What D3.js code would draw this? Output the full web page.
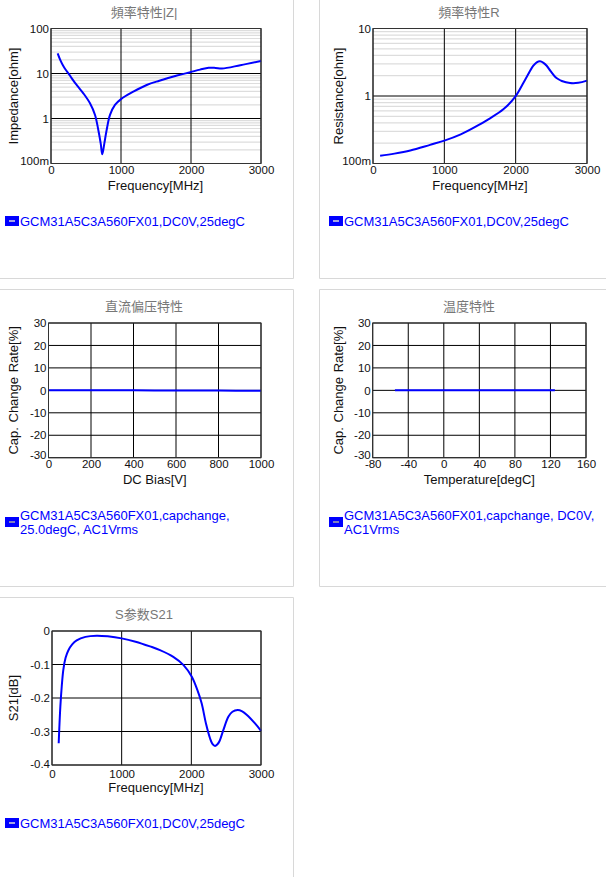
<!DOCTYPE html>
<html>
<head>
<meta charset="utf-8">
<script src="https://cdnjs.cloudflare.com/ajax/libs/d3/7.8.5/d3.min.js"></script>
<style>
  html, body { margin: 0; padding: 0; background: #fff; overflow: hidden; }
  text { font-family: "Liberation Sans", "Noto Sans CJK SC", sans-serif; }
  .tick text { fill: #111; font-size: 11.5px; }
</style>
</head>
<body>
<svg id="page" width="606" height="877"></svg>
<script>
// values
var zFreq = [95, 135, 176, 210, 248, 295, 343, 400, 462, 557, 629, 676, 710, 733, 762, 795, 843, 914, 1000, 1176, 1367, 1548, 1800, 1990, 2130, 2252, 2350, 2443, 2705, 3000];
var zOhm = [28, 19.5, 14.6, 12.1, 10.1, 7.9, 6.2, 4.8, 3.63, 2.18, 1.2, 0.555, 0.28, 0.16, 0.28, 0.555, 1.2, 2.0, 2.7, 3.94, 5.55, 6.9, 9.0, 10.7, 12.2, 13.4, 13.3, 12.9, 15.3, 19];

var rFreq = [100, 300, 523, 800, 1000, 1230, 1458, 1617, 1827, 1995, 2131, 2248, 2295, 2341, 2390, 2435, 2490, 2552, 2600, 2646, 2762, 2878, 3000];
var rOhm = [0.13, 0.14, 0.156, 0.189, 0.218, 0.27, 0.36, 0.452, 0.635, 0.98, 1.73, 2.81, 3.15, 3.27, 3.1, 2.81, 2.33, 1.93, 1.77, 1.67, 1.56, 1.57, 1.69];

var biasVolt = [0, 200, 400, 600, 800, 1000];
var biasRate = [0, 0, 0, -0.05, -0.1, -0.2];

var tempDeg = [-55, -25, 0, 25, 50, 85, 125];
var tempRate = [0, 0, 0, 0, 0, 0, 0];

var s21Freq = [96, 105, 120, 140, 163, 195, 234, 290, 354, 480, 641, 800, 1000, 1200, 1407, 1550, 1741, 1885, 2005, 2086, 2148, 2210, 2268, 2300, 2340, 2375, 2402, 2459, 2531, 2590, 2665, 2730, 2794, 2914, 3000];
var s21Db = [-0.335, -0.29, -0.225, -0.165, -0.115, -0.08, -0.058, -0.04, -0.028, -0.0175, -0.014, -0.016, -0.022, -0.032, -0.046, -0.057, -0.077, -0.101, -0.136, -0.176, -0.216, -0.276, -0.32, -0.336, -0.343, -0.338, -0.33, -0.296, -0.256, -0.241, -0.236, -0.24, -0.25, -0.276, -0.298];

var freqTicks = [0, 1000, 2000, 3000];
var logTicksZ = [0.1, 1, 10, 100];
var logTicksR = [0.1, 1, 10];
var biasTicks = [0, 200, 400, 600, 800, 1000];
var tempTicks = [-80, -40, 0, 40, 80, 120, 160];
var rateTicks = [-30, -20, -10, 0, 10, 20, 30];
var s21Ticks = [-0.4, -0.3, -0.2, -0.1, 0];

var svg = d3.select('#page');

// card outlines
var cardPaths = [
  'M0,278.5H293.5V0',
  'M319.5,0V278.5H606',
  'M0,289.5H293.5V586.5H0',
  'M606,289.5H319.5V586.5H606',
  'M0,597.5H293.5V877'
];
svg.selectAll('path.card').data(cardPaths).enter().append('path')
  .attr('class', 'card').attr('d', function(d) { return d; })
  .attr('fill', 'none').attr('stroke', '#d8d8d8').attr('stroke-width', 1);

function logLabel(d) {
  return d < 1 ? Math.round(d * 1000) + 'm' : String(d);
}

function drawChart(c) {
  var g = svg.append('g');
  var x = d3.scaleLinear().domain(c.xDomain).range([c.box[0], c.box[1]]);
  var y = (c.log ? d3.scaleLog() : d3.scaleLinear()).domain(c.yDomain).range([c.box[3], c.box[2]]);

  g.append('text').attr('x', c.titleX).attr('y', c.box[2] - 12)
    .attr('text-anchor', 'middle').attr('fill', '#777').style('font-size', '13px').text(c.title);

  // minor grid on log charts
  if (c.log) {
    var minor = [];
    for (var i = 0; i < c.yTicks.length - 1; i++) {
      for (var m = 2; m < 10; m++) minor.push(c.yTicks[i] * m);
    }
    g.selectAll('line.minor').data(minor).enter().append('line')
      .attr('x1', c.box[0]).attr('x2', c.box[1])
      .attr('y1', function(d) { return y(d); }).attr('y2', function(d) { return y(d); })
      .attr('stroke', '#ddd').attr('stroke-width', 1.2);
  }

  // major grid
  g.selectAll('line.vgrid').data(c.xTicks).enter().append('line')
    .attr('x1', function(d) { return x(d); }).attr('x2', function(d) { return x(d); })
    .attr('y1', c.box[2]).attr('y2', c.box[3]).attr('stroke', '#000').attr('stroke-width', 1);
  g.selectAll('line.hgrid').data(c.yTicks).enter().append('line')
    .attr('x1', c.box[0]).attr('x2', c.box[1])
    .attr('y1', function(d) { return y(d); }).attr('y2', function(d) { return y(d); })
    .attr('stroke', '#000').attr('stroke-width', 1);

  var line = d3.line()
    .x(function(d) { return x(d[0]); })
    .y(function(d) { return y(d[1]); })
    .curve(d3.curveCatmullRom.alpha(0.5));
  g.append('path').datum(d3.zip(c.xs, c.ys)).attr('d', line)
    .attr('fill', 'none').attr('stroke', '#0000ff').attr('stroke-width', 2);

  g.append('rect').attr('x', c.box[0]).attr('y', c.box[2])
    .attr('width', c.box[1] - c.box[0]).attr('height', c.box[3] - c.box[2])
    .attr('fill', 'none').attr('stroke', '#333').attr('stroke-width', 1);

  var tickPad = c.xTickPad === undefined ? 2 : c.xTickPad;
  var xAxis = d3.axisBottom(x).tickValues(c.xTicks).tickSize(0).tickPadding(tickPad)
    .tickFormat(function(d) { return String(d); });
  g.append('g').attr('transform', 'translate(0,' + c.box[3] + ')').call(xAxis)
    .call(function(a) { a.select('.domain').remove(); });
  var yAxis = d3.axisLeft(y).tickValues(c.yTicks).tickSize(0).tickPadding(2)
    .tickFormat(c.log ? logLabel : (c.yFormat || String));
  g.append('g').attr('transform', 'translate(' + c.box[0] + ',0)').call(yAxis)
    .call(function(a) {
      a.select('.domain').remove();
      // lowest label sits a little above the frame corner
      a.selectAll('.tick').filter(function(d) { return d === c.yDomain[0]; })
        .select('text').attr('dy', c.lowDy || '0.05em');
    });

  g.append('text').attr('x', (c.box[0] + c.box[1]) / 2 + c.xLabelShift).attr('y', c.box[3] + (c.xLabelGap || 26))
    .attr('text-anchor', 'middle').attr('fill', '#111').style('font-size', '13px').text(c.xLabel);
  g.append('text')
    .attr('transform', 'translate(' + c.yLabelX + ',' + (c.box[2] + c.box[3]) / 2 + ') rotate(-90)')
    .attr('text-anchor', 'middle').attr('fill', '#111').style('font-size', '13px')
    .style('word-spacing', '1px').text(c.yLabel);

  // legend key and text
  g.append('rect').attr('x', c.legendX).attr('y', c.legendY).attr('width', 14).attr('height', 10).attr('fill', '#0000ff');
  g.append('line').attr('x1', c.legendX + 4).attr('x2', c.legendX + 10)
    .attr('y1', c.legendY + 5).attr('y2', c.legendY + 5)
    .attr('stroke', c.legendLines.length > 1 ? '#aaa' : '#ddd').attr('stroke-width', 1.5);
  c.legendLines.forEach(function(t, i) {
    g.append('text').attr('x', c.legendX + 15).attr('y', c.legendTextY + i * 14)
      .attr('fill', '#0000ff').style('font-size', '13px').text(t);
  });
}

var legendPlain = ['GCM31A5C3A560FX01,DC0V,25degC'];

drawChart({ title: '頻率特性|Z|', titleX: 144, box: [51, 261, 28.5, 163.5], log: true,
  xDomain: [0, 3000], yDomain: [0.1, 100], xTicks: freqTicks, yTicks: logTicksZ, xs: zFreq, ys: zOhm,
  xLabel: 'Frequency[MHz]', xLabelShift: -0.5, yLabel: 'Impedance[ohm]', yLabelX: 18,
  legendX: 5, legendY: 216, legendTextY: 226, legendLines: legendPlain });

drawChart({ title: '頻率特性R', titleX: 469, box: [373, 587, 28.5, 163.5], log: true,
  xDomain: [0, 3000], yDomain: [0.1, 10], xTicks: freqTicks, yTicks: logTicksR, xs: rFreq, ys: rOhm,
  xLabel: 'Frequency[MHz]', xLabelShift: 0, yLabel: 'Resistance[ohm]', yLabelX: 343,
  legendX: 329, legendY: 216, legendTextY: 226, legendLines: legendPlain });

drawChart({ title: '直流偏压特性', titleX: 144, box: [48.5, 261, 323, 457.7], log: false,
  xDomain: [0, 1000], yDomain: [-30, 30], xTicks: biasTicks, yTicks: rateTicks, xs: biasVolt, ys: biasRate,
  xLabel: 'DC Bias[V]', xLabelShift: 0, yLabel: 'Cap. Change Rate[%]', yLabelX: 18,
  legendX: 5, legendY: 517, legendTextY: 520, legendLines: ['GCM31A5C3A560FX01,capchange,', '25.0degC, AC1Vrms'] });

drawChart({ title: '温度特性', titleX: 469, box: [372.7, 586, 323, 457.7], log: false,
  xDomain: [-80, 160], yDomain: [-30, 30], xTicks: tempTicks, yTicks: rateTicks, xs: tempDeg, ys: tempRate,
  xLabel: 'Temperature[degC]', xLabelShift: 0, yLabel: 'Cap. Change Rate[%]', yLabelX: 343,
  legendX: 329, legendY: 517, legendTextY: 520, legendLines: ['GCM31A5C3A560FX01,capchange, DC0V,', 'AC1Vrms'] });

drawChart({ title: 'S参数S21', titleX: 144, box: [52, 261, 631, 765], log: false,
  xDomain: [0, 3000], yDomain: [-0.4, 0], xTicks: freqTicks, yTicks: s21Ticks, xs: s21Freq, ys: s21Db,
  yFormat: function(d) { return d === 0 ? '0' : d.toFixed(1); },
  xLabel: 'Frequency[MHz]', xLabelShift: -0.5, yLabel: 'S21[dB]', yLabelX: 18, xTickPad: 5, xLabelGap: 27, lowDy: '0.2em',
  legendX: 5, legendY: 818, legendTextY: 828, legendLines: legendPlain });

// axes print a true minus sign; the reference uses a plain hyphen
svg.selectAll('.tick text').text(function() { return d3.select(this).text().replace('\u2212', '-'); });
</script>
</body>
</html>
